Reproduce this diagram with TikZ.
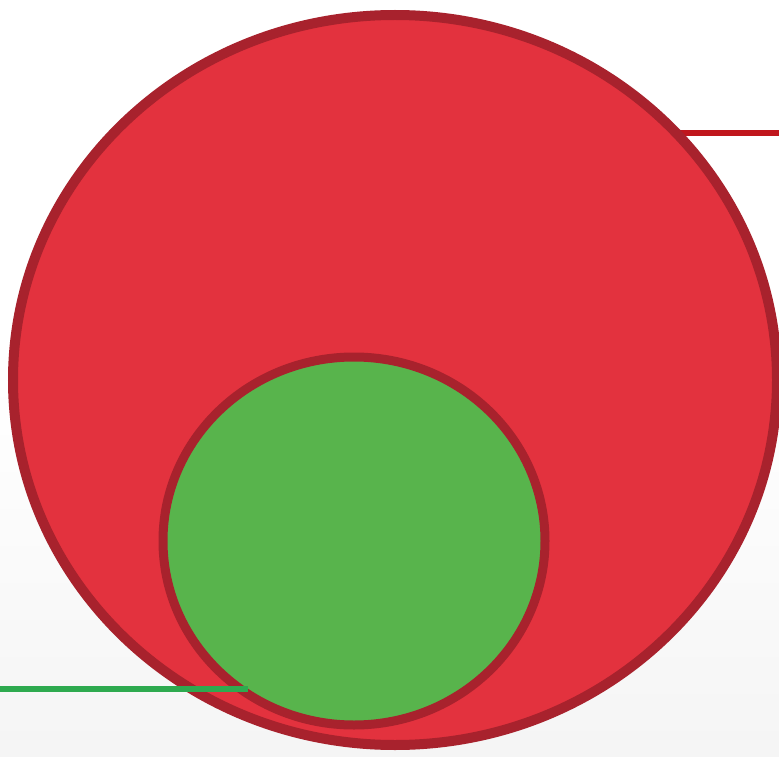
\documentclass[tikz,border=0pt]{standalone}
\usetikzlibrary{shapes.geometric}
\pgfdeclarelayer{back}
\pgfdeclarelayer{bg}
\pgfsetlayers{back,bg,main}
\definecolor{redfill}{HTML}{E3323E}
\definecolor{redborder}{HTML}{A8222D}
\definecolor{greenfill}{HTML}{58B44C}
\definecolor{redline}{HTML}{C0161D}
\definecolor{greenline}{HTML}{2EAA4F}
\tikzset{
  blob/.style={ellipse, inner sep=0pt, draw=redborder},
  leader/.style={line width=5.5pt, line cap=butt}
}
\begin{document}
\begin{tikzpicture}[x=1pt,y=-1pt]
  \useasboundingbox (0,0) rectangle (779,757);
  \begin{pgfonlayer}{back}
    \shade[top color=white, bottom color=white!96!black, middle color=white] (0,0) rectangle (779,757);
  \end{pgfonlayer}
  \node[blob, fill=redfill, line width=10pt, minimum width=764pt, minimum height=730pt] (big) at (395,380) {};
  \node[blob, fill=greenfill, line width=9pt, minimum width=382pt, minimum height=368pt] (small) at (354,541) {};
  \coordinate (redend) at (779,133);
  \coordinate (greenend) at (0,689);
  \coordinate (greenstart) at (248,689);
  \begin{pgfonlayer}{bg}
    \draw[leader, draw=redline] (redend) -- (redend -| big.center);
  \end{pgfonlayer}
  \draw[leader, draw=greenline] (greenend) -- (greenstart);
\end{tikzpicture}
\end{document}
